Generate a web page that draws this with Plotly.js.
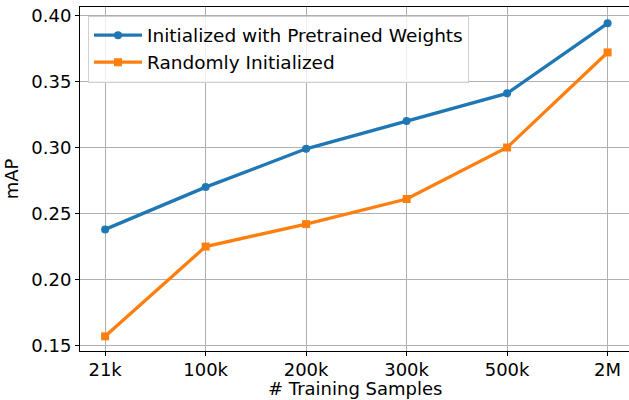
<!DOCTYPE html>
<html>
<head>
<meta charset="utf-8">
<script src="https://cdn.plot.ly/plotly-3.0.1.min.js"></script>
<style>html,body{margin:0;padding:0;background:#fff;} #chart{width:629px;height:400px;}</style>
</head>
<body>
<div id="chart"></div>
<script>
const categories = ["21k", "100k", "200k", "300k", "500k", "2M"];
const pretrained = [0.238, 0.270, 0.299, 0.320, 0.341, 0.394];
const randomInit = [0.157, 0.225, 0.242, 0.261, 0.300, 0.372];
const yTicks = [0.15, 0.20, 0.25, 0.30, 0.35, 0.40];
const yTickLabels = ["0.15", "0.20", "0.25", "0.30", "0.35", "0.40"];
const xTitle = "# Training Samples";
const yTitle = "mAP";

const font = {family: "DejaVu Sans", size: 18, color: "#000"};
const legendFont = {family: "DejaVu Sans", size: 18.5, color: "#000"};

const traces = [
  {x: categories, y: pretrained, name: "Initialized with Pretrained Weights", mode: "lines+markers",
   line: {color: "#1f77b4", width: 3.3}, marker: {symbol: "circle", size: 8, color: "#1f77b4"}},
  {x: categories, y: randomInit, name: "Randomly Initialized", mode: "lines+markers",
   line: {color: "#ff7f0e", width: 3.3}, marker: {symbol: "square", size: 8, color: "#ff7f0e"}}
];

const layout = {
  width: 629, height: 400,
  margin: {l: 80, r: 0, t: 7, b: 49},
  paper_bgcolor: "#fff", plot_bgcolor: "#fff",
  font: font,
  showlegend: true,
  legend: {x: 0.0146, y: 0.975, xanchor: "left", yanchor: "top",
           bgcolor: "rgba(255,255,255,0.8)", bordercolor: "#d0d0d0", borderwidth: 1,
           font: legendFont, tracegroupgap: 0, itemwidth: 48},
  xaxis: {type: "category", categoryarray: categories, range: [-0.25, 5.213],
          showgrid: true, gridcolor: "#b0b0b0", gridwidth: 1,
          showline: true, linecolor: "#000", linewidth: 1, mirror: true,
          ticks: "outside", ticklen: 4, tickcolor: "#000", tickwidth: 1,
          tickfont: font, zeroline: false, ticklabelstandoff: -2},
  yaxis: {range: [0.1459, 0.4064], tickvals: yTicks, ticktext: yTickLabels,
          showgrid: true, gridcolor: "#b0b0b0", gridwidth: 1,
          showline: true, linecolor: "#000", linewidth: 1, mirror: false,
          ticks: "outside", ticklen: 4, tickcolor: "#000", tickwidth: 1,
          tickfont: font, zeroline: false,
          title: {text: yTitle, font: font, standoff: 8}},
  annotations: [{text: xTitle, xref: "paper", yref: "paper", x: 0.5, y: -0.108,
                 xanchor: "center", yanchor: "middle", showarrow: false, font: font}]
};

Plotly.newPlot("chart", traces, layout, {staticPlot: true, displayModeBar: false});
</script>
</body>
</html>
